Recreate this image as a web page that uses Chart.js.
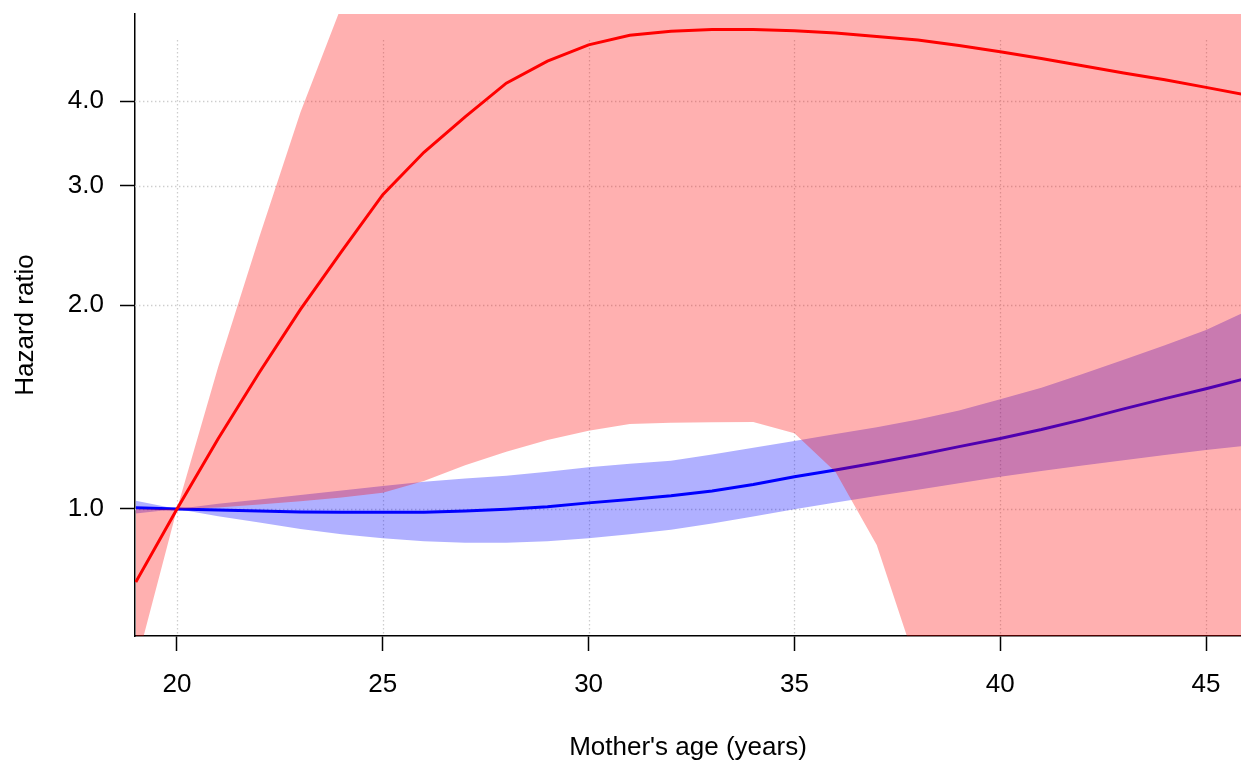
<!DOCTYPE html>
<html><head><meta charset="utf-8">
<script src="https://cdn.jsdelivr.net/npm/chart.js@4.4.1/dist/chart.umd.min.js"></script>
<style>html,body{margin:0;padding:0;background:#fff;overflow:hidden}canvas{display:block}</style>
</head><body>
<canvas id="c" width="1241" height="763"></canvas>
<script>
// Mother's age (years)
const ages = [19,20,21,22,23,24,25,26,27,28,29,30,31,32,33,34,35,36,37,38,39,40,41,42,43,44,45,46];

// Red series: hazard ratio estimate and 95% band
const redEst = [0.78,1.0,1.27,1.59,1.97,2.40,2.91,3.36,3.79,4.25,4.58,4.84,5.00,5.07,5.10,5.10,5.08,5.04,4.98,4.92,4.83,4.73,4.62,4.51,4.40,4.30,4.19,4.08];
const redLow = [0.587,1.0,1.005,1.015,1.027,1.040,1.057,1.10,1.16,1.215,1.264,1.305,1.335,1.34,1.343,1.344,1.293,1.134,0.885,0.58,0.42,0.33,0.27,0.23,0.20,0.18,0.16,0.15];
const redUpp = [0.999,1.0,1.62,2.52,3.85,5.53,7.4,9.4,11.5,13.4,14.8,15.9,16.6,17.0,17.3,17.6,18.2,19.5,22,26,31,36,41,46,52,58,64,71];

// Blue series: hazard ratio estimate and 95% band
const blueEst = [1.004,1.0,0.997,0.993,0.990,0.989,0.989,0.989,0.993,0.999,1.008,1.021,1.033,1.046,1.063,1.087,1.116,1.142,1.170,1.201,1.236,1.271,1.31,1.355,1.405,1.455,1.505,1.56];
const blueLow = [0.985,1.0,0.976,0.955,0.934,0.918,0.905,0.896,0.892,0.892,0.896,0.905,0.918,0.932,0.952,0.975,0.999,1.022,1.045,1.068,1.091,1.116,1.138,1.159,1.18,1.201,1.222,1.24];
const blueUpp = [1.028,1.0,1.018,1.033,1.049,1.065,1.081,1.097,1.109,1.12,1.135,1.152,1.166,1.178,1.203,1.231,1.26,1.29,1.32,1.355,1.397,1.452,1.51,1.582,1.66,1.745,1.837,1.96];

// Axes
const xTicks = [20,25,30,35,40,45];
const yTicks = [1,2,3,4];
const yTickLabels = ['1.0','2.0','3.0','4.0'];
const xTitle = "Mother's age (years)";
const yTitle = 'Hazard ratio';
const xMin = 18.98, xMax = 45.85;
const yMin = 0.6495, yMax = 5.376;
const vGridTop = 4.92;

const FONT = "'Liberation Sans', Arial, sans-serif";
const pts = arr => ages.map((a, i) => ({x: a, y: arr[i]}));

const gridPlugin = {
  id: 'rgrid',
  beforeDatasetsDraw(chart) {
    const {ctx, chartArea: a, scales: {x, y}} = chart;
    ctx.save();
    ctx.beginPath();
    ctx.rect(a.left, a.top, a.right - a.left, a.bottom - a.top);
    ctx.clip();
    ctx.strokeStyle = '#cdcdcd';
    ctx.lineWidth = 1.3;
    ctx.setLineDash([1.4, 2.6]);
    yTicks.forEach(v => {
      const py = Math.round(y.getPixelForValue(v)) + 0.5;
      ctx.beginPath(); ctx.moveTo(a.left, py); ctx.lineTo(a.right, py); ctx.stroke();
    });
    const top = y.getPixelForValue(vGridTop);
    xTicks.forEach(v => {
      const px = Math.round(x.getPixelForValue(v)) + 0.5;
      ctx.beginPath(); ctx.moveTo(px, top); ctx.lineTo(px, a.bottom); ctx.stroke();
    });
    ctx.restore();
  }
};

const band = {borderWidth: 0, pointRadius: 0, tension: 0};
const line = {pointRadius: 0, tension: 0, borderWidth: 3, fill: false};

new Chart(document.getElementById('c'), {
  type: 'line',
  data: {
    datasets: [
      Object.assign({label: 'blueLow', data: pts(blueLow), fill: false, order: 60}, band),
      Object.assign({label: 'blueUpp', data: pts(blueUpp), fill: 0, backgroundColor: 'rgba(0,0,255,0.31)', order: 50}, band),
      Object.assign({label: 'blueEst', data: pts(blueEst), borderColor: '#0000ff', order: 40}, line),
      Object.assign({label: 'redLow', data: pts(redLow), fill: false, order: 30}, band),
      Object.assign({label: 'redUpp', data: pts(redUpp), fill: 3, backgroundColor: 'rgba(255,0,0,0.31)', order: 20}, band),
      Object.assign({label: 'redEst', data: pts(redEst), borderColor: '#ff0000', order: 10}, line)
    ]
  },
  options: {
    responsive: false,
    animation: false,
    devicePixelRatio: 1,
    layout: {padding: {top: 14, left: 0, right: 0, bottom: 0}},
    plugins: {legend: {display: false}, tooltip: {enabled: false}},
    scales: {
      x: {
        type: 'linear', min: xMin, max: xMax, bounds: 'data',
        afterBuildTicks(s) { s.ticks = xTicks.map(v => ({value: v})); },
        afterFit(s) { s.height = 127; s.paddingLeft = 0; s.paddingRight = 0; },
        grid: {display: true, drawOnChartArea: false, drawTicks: true, tickLength: 15, tickWidth: 1.5, tickColor: '#000'},
        border: {display: true, color: '#000', width: 1.5},
        ticks: {font: {family: FONT, size: 26, lineHeight: 1}, color: '#000', padding: 21, maxRotation: 0, autoSkip: false,
                callback: v => String(v)},
        title: {display: true, text: xTitle, color: '#000', font: {family: FONT, size: 26, lineHeight: 1.2}, padding: {top: 0, bottom: 0}}
      },
      y: {
        type: 'logarithmic', min: yMin, max: yMax, bounds: 'data',
        afterBuildTicks(s) { s.ticks = yTicks.map(v => ({value: v})); },
        afterFit(s) { s.width = 135; s.paddingTop = 0; s.paddingBottom = 0; },
        grid: {display: true, drawOnChartArea: false, drawTicks: true, tickLength: 15, tickWidth: 1.5, tickColor: '#000'},
        border: {display: true, color: '#000', width: 1.5},
        ticks: {font: {family: FONT, size: 26, lineHeight: 1}, color: '#000', padding: 16, autoSkip: false,
                callback: v => yTickLabels[yTicks.indexOf(v)]},
        title: {display: true, text: yTitle, color: '#000', font: {family: FONT, size: 26, lineHeight: 1.2}, padding: {top: 10.2, bottom: 0}}
      }
    }
  },
  plugins: [gridPlugin]
});
</script>
</body></html>
